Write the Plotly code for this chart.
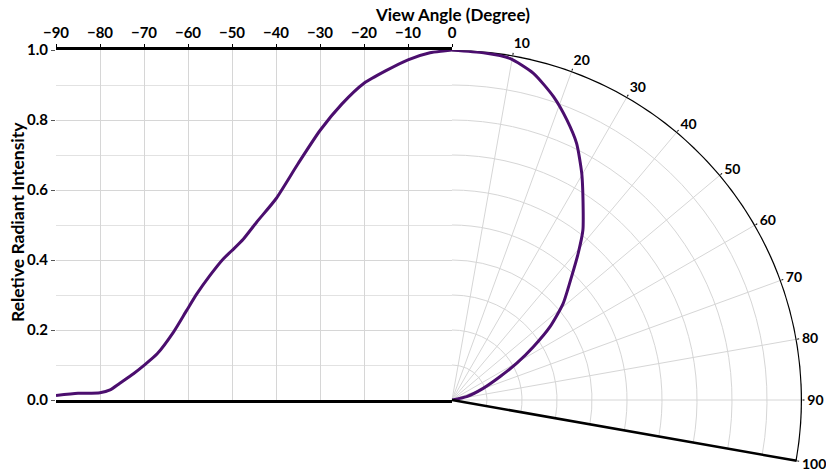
import plotly.graph_objects as go

# left half: intensity vs view angle (-90..0)
cart_angle = [-90, -85, -80, -77.7, -75.5, -72.4, -70, -67, -63.3, -60.3, -58,
              -55, -52, -50, -47.4, -44.4, -40, -35, -30, -25, -20, -15, -10,
              -5, -2, 0]
cart_intensity = [0.013, 0.019, 0.021, 0.029, 0.048, 0.075, 0.099, 0.132, 0.194,
                  0.256, 0.303, 0.356, 0.403, 0.427, 0.46, 0.508, 0.575, 0.675,
                  0.77, 0.846, 0.905, 0.941, 0.972, 0.992, 0.997, 1.0]

# right half: intensity on the polar grid (0..90)
polar_angle = [0, 5.2, 9.6, 14, 18.5, 22.3, 25.9, 29.8, 34.6, 37.6, 40.7, 44.1,
               49, 53.2, 56.8, 60.4, 64.1, 69.5, 77.3, 82]
polar_intensity = [1.0, 0.996, 0.99, 0.962, 0.914, 0.865, 0.815, 0.746, 0.66,
                   0.613, 0.553, 0.491, 0.421, 0.35, 0.278, 0.213, 0.152, 0.095,
                   0.043, 0.0]

x_ticks = list(range(-90, 1, 10))
polar_ticks = list(range(10, 101, 10))
frame_theta = list(range(0, 101))  # outer arc of the polar sector

W, H = 826, 473
line_color = '#4b0e6e'
grid_color = '#d6d6d6'
bold = dict(family='Lato', size=15, color='black', weight='bold')

fig = go.Figure()

fig.add_trace(go.Scatter(
    x=cart_angle,
    y=cart_intensity,
    mode='lines',
    line=dict(color=line_color, width=3, shape='spline', smoothing=0.6),
    showlegend=False
))

fig.add_trace(go.Scatterpolar(
    theta=frame_theta,
    r=[1] * len(frame_theta),
    mode='lines',
    line=dict(color='black', width=2.5),
    hoverinfo='skip',
    showlegend=False
))

fig.add_trace(go.Scatterpolar(
    theta=polar_angle,
    r=polar_intensity,
    mode='lines',
    line=dict(color=line_color, width=3, shape='spline', smoothing=0.6),
    showlegend=False
))

fig.update_layout(
    width=W,
    height=H,
    margin=dict(l=0, r=0, t=0, b=0),
    paper_bgcolor='white',
    plot_bgcolor='white',
    font=dict(family='Lato', size=15, color='black'),
    xaxis=dict(
        domain=[56 / W, 452 / W],
        range=[-90, 0],
        side='top',
        tickvals=x_ticks,
        ticks='outside',
        ticklen=3,
        tickcolor='black',
        showline=True,
        mirror=True,
        linecolor='black',
        linewidth=2.5,
        showgrid=True,
        gridcolor=grid_color,
        zeroline=False,
        automargin=False,
        tickfont=bold,
    ),
    yaxis=dict(
        domain=[(H - 400) / H, (H - 50) / H],
        range=[0, 1],
        dtick=0.2,
        tickformat='.1f',
        ticks='outside',
        ticklen=4,
        tickcolor='#555',
        showline=False,
        showgrid=True,
        gridcolor=grid_color,
        minor=dict(dtick=0.1, showgrid=True, gridcolor='#e2e2e2'),
        zeroline=False,
        automargin=False,
        tickfont=bold,
    ),
    polar=dict(
        domain=dict(x=[452 / W, 802 / W], y=[(H - 460.8) / H, (H - 50) / H]),
        sector=[-10, 90],
        bgcolor='white',
        angularaxis=dict(
            rotation=90,
            direction='clockwise',
            tickvals=polar_ticks,
            ticks='outside',
            ticklen=2,
            tickcolor='black',
            showline=False,
            gridcolor=grid_color,
            tickfont=dict(family='Lato', size=14, color='black', weight='bold'),
        ),
        radialaxis=dict(
            range=[0, 1],
            dtick=0.1,
            angle=-10,
            showticklabels=False,
            ticks='',
            showline=True,
            linecolor='black',
            linewidth=2.5,
            gridcolor=grid_color,
        ),
    ),
    annotations=[
        dict(text='View Angle (Degree)', x=452 / W, y=1 - 14 / H,
             xref='paper', yref='paper', yanchor='middle', showarrow=False,
             font=dict(family='Lato', size=17, weight='bold')),
        dict(text='Reletive Radiant Intensity', x=17 / W, y=1 - 222 / H,
             xref='paper', yref='paper', xanchor='center', yanchor='middle',
             textangle=-90, showarrow=False,
             font=dict(family='Lato', size=17.5, weight='bold')),
    ],
)

fig.write_html("out.html", config={'displayModeBar': False},
               post_script="document.body.style.margin='0';")
